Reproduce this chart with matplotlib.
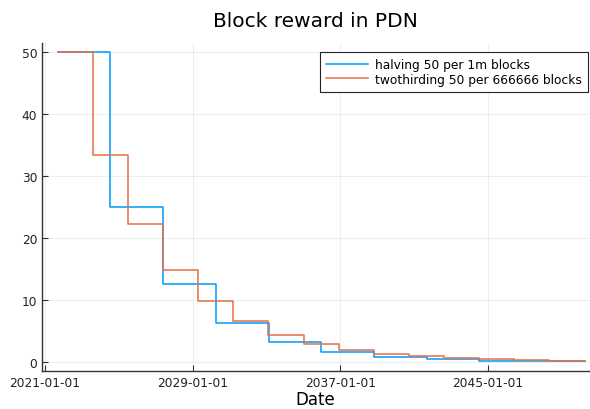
import matplotlib
matplotlib.use('Agg')

import datetime as dt
import matplotlib.pyplot as plt
import matplotlib.dates as mdates

# change dates of the block reward (last entry = end of the series)
halving_dates = ["2021-09-09", "2024-07-18", "2027-05-27", "2030-04-04", "2033-02-10",
                 "2035-12-19", "2038-10-27", "2041-09-04", "2044-07-13", "2047-05-22",
                 "2050-03-31"]
halving_reward = [50, 25, 12.5, 6.25, 3.125, 1.5625, 0.78125, 0.390625, 0.1953125,
                  0.09765625]

twothird_dates = ["2021-09-09", "2023-08-04", "2025-06-29", "2027-05-25", "2029-04-19",
                  "2031-03-15", "2033-02-07", "2035-01-02", "2036-11-27", "2038-10-23",
                  "2040-09-17", "2042-08-12", "2044-07-07", "2046-06-01", "2048-04-26",
                  "2050-03-31"]
twothird_reward = [50, 33.33, 22.22, 14.81, 9.88, 6.58, 4.39, 2.93, 1.95, 1.30,
                   0.87, 0.58, 0.39, 0.26, 0.17]

tick_dates = ["2021-01-01", "2029-01-01", "2037-01-01", "2045-01-01"]
y_ticks = [0, 10, 20, 30, 40, 50]


def to_dates(lst):
    return [dt.datetime.strptime(s, "%Y-%m-%d") for s in lst]


fig = plt.figure(figsize=(5.9, 4.1), dpi=100)
ax = fig.add_axes([42 / 590, 38 / 410, 547 / 590, 328 / 410])

ax.plot(to_dates(halving_dates), halving_reward + halving_reward[-1:],
        drawstyle="steps-post", color="#009AFA", lw=1.1,
        label="halving 50 per 1m blocks")
ax.plot(to_dates(twothird_dates), twothird_reward + twothird_reward[-1:],
        drawstyle="steps-post", color="#E36F47", lw=1.1,
        label="twothirding 50 per 666666 blocks")

ax.set_xlim(dt.datetime(2020, 11, 1), dt.datetime(2050, 6, 20))
ax.set_ylim(-1.5, 51.5)
ax.set_xticks(to_dates(tick_dates))
ax.xaxis.set_major_formatter(mdates.DateFormatter("%Y-%m-%d"))
ax.set_yticks(y_ticks)

for s in ["top", "right"]:
    ax.spines[s].set_visible(False)
for s in ["left", "bottom"]:
    ax.spines[s].set_color("#333333")
    ax.spines[s].set_linewidth(1.0)

ax.tick_params(direction="in", length=4, width=0.8, labelsize=8.8,
               colors="#333333", labelcolor="#222222")
ax.grid(True, color="black", alpha=0.08, lw=0.6)

ax.set_title("Block reward in PDN", fontsize=14.5, pad=12)
ax.set_xlabel("Date", fontsize=12, labelpad=1)

leg = ax.legend(loc="upper right", bbox_to_anchor=(588 / 590, 1 - 53 / 410),
                bbox_transform=fig.transFigure, borderaxespad=0,
                fontsize=8.8, fancybox=False, framealpha=1,
                edgecolor="#222222", borderpad=0.5, handlelength=3.4,
                labelspacing=0.12, handletextpad=0.6)
leg.get_frame().set_linewidth(0.8)

fig.savefig("out.png", dpi=100)
